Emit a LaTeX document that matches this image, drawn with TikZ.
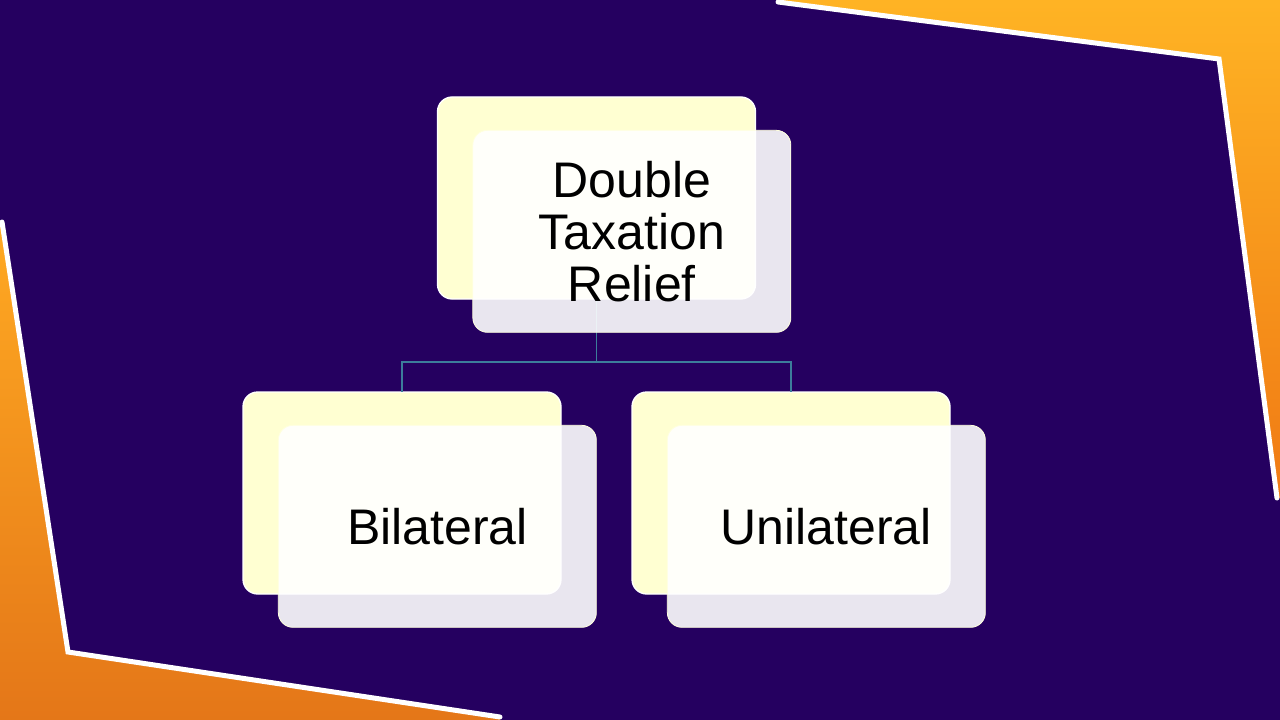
\documentclass[tikz,border=0pt]{standalone}
\usepackage{fontspec}
\setmainfont{Liberation Sans}
\definecolor{bg}{RGB}{37,0,96}
\definecolor{yb}{RGB}{255,255,210}
\definecolor{ln}{RGB}{60,125,155}
\definecolor{or1}{RGB}{255,180,36}
\definecolor{or2}{RGB}{240,122,20}
\definecolor{or3}{RGB}{255,170,34}
\definecolor{or4}{RGB}{228,118,24}
\usetikzlibrary{
  positioning     % right=of for the second child
}
\tikzset{
    x=0.75pt, y=-0.75pt,
    every node/.style = {
        rectangle,
        rounded corners=11pt,
        minimum width=238.5pt,
        minimum height=151.5pt,
        outer sep=0pt,
        inner sep=0pt,
        align=center,
        font=\fontsize{37.5}{39}\selectfont
    },
    backbox/.append style = {fill=yb, draw=white, line width=1pt},
    frontbox/.append style = {fill=white, fill opacity=0.9, text opacity=1,
        draw=yb!70!white, line width=0.6pt, xshift=26.5pt, yshift=-25pt},
    link/.style = {draw=ln, line width=1.1pt},
    edgeline/.style = {draw=white, line width=3.75pt, line cap=round}
}

\begin{document}
\begin{tikzpicture}

  %% background
  \useasboundingbox (0,0) rectangle (1280,720);
  \fill[bg] (0,0) rectangle (1280,720);
  \shade[top color=or1, bottom color=or2]
    (778,-5) -- (1285,-5) -- (1285,498) -- (1277,498) -- (1219,59) -- (778,2) -- cycle;
  \shade[top color=or3, bottom color=or4]
    (-5,218) -- (2,222) -- (68,652) -- (500,717) -- (500,725) -- (-5,725) -- cycle;
  \draw[edgeline] (778,2) -- (1219,59) -- (1277,498);
  \draw[edgeline] (2,222) -- (68,652) -- (500,717);

  %% back boxes
  \node [backbox] (DTRback) at (596.5,198) {};
  \node [backbox] (BILback) at (402,493) {};
  \node [backbox, right=53.25pt of BILback] (UNIback) {};

  %% connectors
  \coordinate (fork) at (596.5,362);
  \draw[link] (DTRback.south) -- (fork) -| (BILback.north);
  \draw[link] (fork) -| (UNIback.north);

  %% front boxes with the labels
  \node [frontbox] (DTR) at (DTRback) {Double\\Taxation\\Relief};
  \node [frontbox] (BIL) at (BILback) {Bilateral};
  \node [frontbox] (UNI) at (UNIback) {Unilateral};

\end{tikzpicture}
\end{document}
